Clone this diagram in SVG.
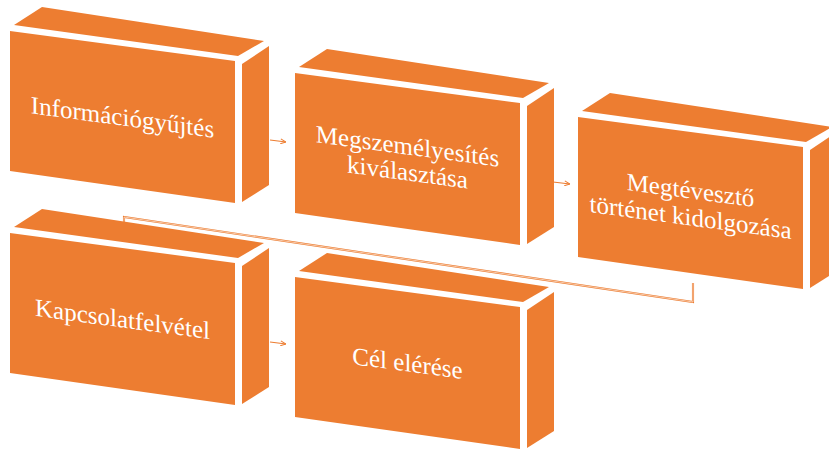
<svg xmlns="http://www.w3.org/2000/svg" xmlns:xlink="http://www.w3.org/1999/xlink" width="829" height="449" viewBox="0 0 829 449">
  <style>
    .face { fill: #ED7D31; }
    .lbl { fill: #FFFFFF; font-family: "Liberation Serif", "Times New Roman", serif; font-size: 25px; text-anchor: middle; }
    .conn { fill: none; stroke: #ED7D31; stroke-width: 1.2; }
    .connOuter { fill: none; stroke: #ED7D31; stroke-width: 2.1; }
    .connInner { fill: none; stroke: #FFFFFF; stroke-width: 0.6; }
  </style>
  <defs>
    <marker id="arrow" viewBox="0 0 6 6" refX="6" refY="3" markerWidth="6" markerHeight="6" markerUnits="userSpaceOnUse" orient="auto">
      <path d="M0.5,0.5 L6,3 L0.5,5.5" fill="none" stroke="#ED7D31" stroke-width="1"/>
    </marker>
    <g id="box">
      <polygon class="face" points="0,0 225,30 225,172 0,140"/>
      <polygon class="face" points="4,-6 32,-24 254,10 228,25"/>
      <polygon class="face" points="232,33 259,15 259,154 232,171"/>
    </g>
  </defs>
  <rect width="829" height="449" fill="#FFFFFF"/>

  <g id="connectors">
    <path class="conn" d="M270,140 L286,142" marker-end="url(#arrow)"/>
    <path class="conn" d="M553,182 L570,184" marker-end="url(#arrow)"/>
    <path class="conn" d="M270,342 L286,344" marker-end="url(#arrow)"/>
    <path class="connOuter" d="M693,283 L693,302 L124,217 L124,226"/>
    <path class="connInner" d="M693,283 L693,302 L124,217 L124,226"/>
  </g>

  <g id="node1" transform="translate(10,31)">
    <use xlink:href="#box"/>
    <g transform="translate(112.5,85.5) skewY(7.6)">
      <text class="lbl" x="0" y="9">Információgyűjtés</text>
    </g>
  </g>

  <g id="node2" transform="translate(295,73)">
    <use xlink:href="#box"/>
    <g transform="translate(112.5,85.5) skewY(7.6)">
      <text class="lbl" x="0" y="-4">Megszemélyesítés</text>
      <text class="lbl" x="0" y="22">kiválasztása</text>
    </g>
  </g>

  <g id="node3" transform="translate(578,117)">
    <use xlink:href="#box"/>
    <g transform="translate(112.5,85.5) skewY(7.6)">
      <text class="lbl" x="0" y="-4">Megtévesztő</text>
      <text class="lbl" x="0" y="23">történet kidolgozása</text>
    </g>
  </g>

  <g id="node4" transform="translate(10,233)">
    <use xlink:href="#box"/>
    <g transform="translate(112.5,85.5) skewY(7.6)">
      <text class="lbl" x="0" y="9">Kapcsolatfelvétel</text>
    </g>
  </g>

  <g id="node5" transform="translate(295,277)">
    <use xlink:href="#box"/>
    <g transform="translate(112.5,85.5) skewY(7.6)">
      <text class="lbl" x="0" y="9">Cél elérése</text>
    </g>
  </g>
</svg>
